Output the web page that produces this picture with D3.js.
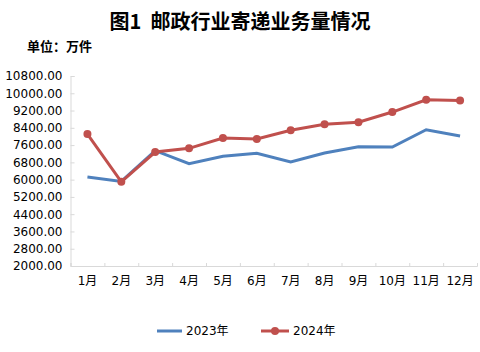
<!DOCTYPE html>
<html>
<head>
<meta charset="utf-8">
<script src="https://cdn.jsdelivr.net/npm/d3@7"></script>
<style>
body { margin: 0; background: #fff; }
text { font-family: "DejaVu Sans", "Noto Sans CJK SC", sans-serif; }
</style>
</head>
<body>
<div id="chart"></div>
<script>
let months = ["1月","2月","3月","4月","5月","6月","7月","8月","9月","10月","11月","12月"]
let values2023 = [6120, 5920, 7340, 6740, 7080, 7220, 6820, 7230, 7520, 7510, 8310, 8020]
let values2024 = [8110, 5900, 7280, 7450, 7930, 7880, 8290, 8560, 8660, 9130, 9700, 9660]
let yTicks = [2000, 2800, 3600, 4400, 5200, 6000, 6800, 7600, 8400, 9200, 10000, 10800]

function chartConfig(){
    let width = 480
    let height = 352
    let margin = { top: 76, bottom: 86, left: 70.5, right: 3 }
    let bodyWidth = width - margin.left - margin.right
    let bodyHeight = height - margin.top - margin.bottom
    let svg = d3.select("#chart")
        .append("svg")
        .attr("width", width)
        .attr("height", height)
    let container = svg.append("g")
        .attr("transform", "translate(" + [margin.left, margin.top] + ")")
    return { width, height, margin, bodyWidth, bodyHeight, svg, container }
}

function chartScales(config){
    let { bodyWidth, bodyHeight } = config
    let xScale = d3.scaleBand().domain(months).range([0, bodyWidth])
    let xEdge = d3.scaleLinear().domain([0, 12]).range([0, bodyWidth])
    let yScale = d3.scaleLinear().domain([2000, 10800]).range([bodyHeight, 0])
    return { xScale, xEdge, yScale }
}

function drawChart(config, scales){
    let { svg, container, bodyHeight } = config
    let { xScale, xEdge, yScale } = scales

    svg.append("text")
        .attr("x", 240).attr("y", 29)
        .attr("text-anchor", "middle")
        .style("font-family", "'Noto Sans CJK SC', sans-serif")
        .style("font-weight", "bold")
        .style("font-size", "20px")
        .style("white-space", "pre")
        .text("图1  邮政行业寄递业务量情况")

    svg.append("text")
        .attr("x", 27).attr("y", 51)
        .style("font-family", "'Noto Sans CJK SC', sans-serif")
        .style("font-weight", "bold")
        .style("font-size", "13px")
        .text("单位：万件")

    // y axis
    let axisY = d3.axisLeft(yScale)
        .tickValues(yTicks)
        .tickSize(-4)
        .tickPadding(8)
        .tickFormat(d3.format(".2f"))
    let gy = container.append("g").call(axisY)
    gy.select(".domain").attr("stroke", "#d9d9d9")
    gy.selectAll(".tick line").attr("stroke", "#d9d9d9")
    gy.selectAll("text").style("font-size", "12px").attr("fill", "#000")

    // x axis tick marks at band edges
    let gxe = container.append("g")
        .attr("transform", "translate(0," + bodyHeight + ")")
        .call(d3.axisBottom(xEdge).ticks(12).tickSize(-3).tickFormat(""))
    gxe.select(".domain").attr("stroke", "#d9d9d9")
    gxe.selectAll(".tick line").attr("stroke", "#d9d9d9")

    let gx = container.append("g")
        .attr("transform", "translate(0," + bodyHeight + ")")
        .call(d3.axisBottom(xScale).tickSize(0).tickPadding(10))
    gx.select(".domain").remove()
    gx.selectAll("text").style("font-size", "12px").attr("fill", "#000")

    let line = d3.line()
        .x((d, i) => xScale(months[i]) + xScale.bandwidth() / 2)
        .y(d => yScale(d))

    container.append("path")
        .datum(values2023)
        .attr("d", line)
        .attr("fill", "none")
        .attr("stroke", "#4f81bd")
        .attr("stroke-width", 3)

    container.append("path")
        .datum(values2024)
        .attr("d", line)
        .attr("fill", "none")
        .attr("stroke", "#c0504d")
        .attr("stroke-width", 3)

    container.selectAll(".dot2024")
        .data(values2024)
        .enter()
        .append("circle")
        .attr("cx", (d, i) => xScale(months[i]) + xScale.bandwidth() / 2)
        .attr("cy", d => yScale(d))
        .attr("r", 4)
        .attr("fill", "#c0504d")
}

function legend(config){
    let { svg } = config
    let lg = svg.append("g")
    lg.append("line")
        .attr("x1", 157).attr("x2", 182).attr("y1", 331).attr("y2", 331)
        .attr("stroke", "#4f81bd").attr("stroke-width", 3)
    lg.append("text")
        .attr("x", 186).attr("y", 331)
        .attr("dy", "0.35em")
        .style("font-size", "12px")
        .text("2023年")
    lg.append("line")
        .attr("x1", 261).attr("x2", 289).attr("y1", 331).attr("y2", 331)
        .attr("stroke", "#c0504d").attr("stroke-width", 3)
    lg.append("circle")
        .attr("cx", 275).attr("cy", 331).attr("r", 4)
        .attr("fill", "#c0504d")
    lg.append("text")
        .attr("x", 293).attr("y", 331)
        .attr("dy", "0.35em")
        .style("font-size", "12px")
        .text("2024年")
}

let config = chartConfig()
let scales = chartScales(config)
drawChart(config, scales)
legend(config)
</script>
</body>
</html>
